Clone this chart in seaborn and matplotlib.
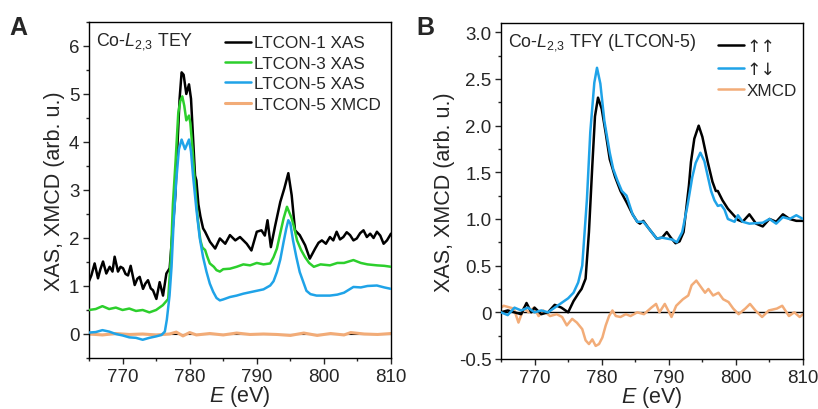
import matplotlib
matplotlib.use("Agg")
import matplotlib.pyplot as plt
import seaborn as sns
import pandas as pd
from matplotlib.ticker import MultipleLocator

# ---------------- Panel A data (TEY) ----------------
a_ltcon1_x = [765.0, 765.35, 765.84, 766.34, 766.7, 767.09, 767.58, 768.08, 768.5, 768.82, 769.32, 769.7,
              770.07, 770.45, 770.81, 771.21, 771.81, 772.2, 772.55, 773.05, 773.4, 773.79, 774.2, 774.54,
              775.04, 775.53, 776.03, 776.53, 777.02, 777.52, 777.87, 778.2, 778.5, 778.8, 779.1, 779.5,
              779.9, 780.2, 780.5, 780.8, 781.0, 781.3, 781.6, 782.0, 782.3, 783.03, 783.8, 784.5, 785.3,
              786.0, 786.8, 787.5, 788.0, 788.5, 789.2, 790.0, 790.7, 791.2, 791.6, 792.1, 792.7, 793.5,
              794.1, 794.7, 795.2, 795.7, 796.4, 797.2, 797.9, 798.7, 799.2, 799.7, 800.3, 800.9, 801.4,
              801.9, 802.4, 802.9, 803.4, 803.9, 804.4, 804.9, 805.4, 805.9, 806.4, 806.9, 807.4, 807.9,
              808.4, 808.9, 809.4, 810.0]
a_ltcon1_y = [1.1, 1.22, 1.47, 1.16, 1.35, 1.51, 1.26, 1.4, 1.3, 1.61, 1.3, 1.4,
              1.37, 1.25, 1.22, 1.42, 1.02, 1.15, 1.19, 0.94, 1.05, 1.12, 0.95, 0.91,
              0.73, 1.08, 0.8, 1.26, 1.37, 2.27, 2.9, 4.0, 4.9, 5.45, 5.4, 5.0,
              5.2, 4.9, 4.1, 3.3, 3.2, 2.7, 2.45, 2.2, 2.13, 1.92, 1.78, 1.99, 1.88,
              2.06, 1.95, 2.02, 1.95, 1.88, 1.74, 2.13, 2.16, 2.05, 2.37, 1.81, 2.23, 2.75,
              3.03, 3.35, 2.89, 2.16, 2.06, 1.85, 1.57, 1.78, 1.9, 1.95, 1.88, 2.02, 1.95,
              2.13, 1.97, 2.02, 2.12, 2.06, 1.95, 1.99, 2.1, 2.16, 2.02, 2.09, 2.0, 2.13,
              2.05, 1.88, 1.95, 2.09]

a_ltcon3_x = [765, 766, 767, 768, 769, 770, 771, 772, 773, 774, 775, 776, 776.8, 777.2, 777.5, 777.9,
              778.3, 778.6, 778.9, 779.2, 779.5, 779.9, 780.1, 780.4, 780.8, 781.2, 781.6, 781.9, 782.3,
              782.6, 783.0, 783.6, 784.0, 784.5, 785, 786, 787, 788, 789, 790, 791, 792, 792.5, 793,
              793.5, 794, 794.5, 795.2, 795.6, 796, 796.6, 797.2, 797.8, 798.5, 799.5, 800.9, 802, 803,
              804.4, 805.5, 806.5, 807.9, 809, 810]
a_ltcon3_y = [0.5, 0.52, 0.58, 0.52, 0.55, 0.5, 0.53, 0.48, 0.5, 0.45, 0.5, 0.6, 0.73, 1.6, 2.7, 3.6,
              4.6, 4.85, 4.95, 4.75, 4.45, 4.55, 4.4, 3.9, 3.1, 2.4, 1.95, 1.8, 1.75,
              1.62, 1.47, 1.4, 1.33, 1.3, 1.35, 1.36, 1.4, 1.45, 1.43, 1.48, 1.45, 1.47, 1.6, 1.78,
              2.1, 2.41, 2.65, 2.41, 2.2, 1.95, 1.75, 1.6, 1.48, 1.4, 1.45, 1.43, 1.48, 1.48,
              1.54, 1.48, 1.45, 1.43, 1.42, 1.4]

a_ltcon5_x = [765, 766, 767, 768, 769, 770, 771, 772, 773, 774, 775, 775.8, 776.3, 776.6, 777.0, 777.3,
              777.6, 778.0, 778.4, 778.8, 779.3, 779.9, 780.2, 780.5, 781.0, 781.5, 782.0, 782.5, 783.0,
              783.5, 784.0, 784.5, 785, 786, 787, 788, 789, 790, 791, 792, 792.5, 793, 793.5, 794, 794.4,
              794.7, 795.0, 795.4, 795.9, 796.4, 797.4, 798.0, 798.9, 800, 800.9, 802, 803, 804.4, 805.5,
              806.5, 807.9, 809, 810]
a_ltcon5_y = [0.03, 0.04, 0.08, 0.05, 0.0, -0.03, -0.07, -0.08, -0.12, -0.08, -0.05, -0.02, 0.05, 0.3, 0.8, 1.4,
              2.3, 3.2, 3.85, 4.05, 3.85, 4.05, 3.8, 3.3, 2.6, 2.0, 1.6, 1.3, 1.05,
              0.88, 0.75, 0.7, 0.72, 0.77, 0.8, 0.84, 0.87, 0.9, 0.93, 1.01, 1.1, 1.29, 1.55, 1.92, 2.2,
              2.37, 2.3, 1.95, 1.6, 1.29, 0.9, 0.83, 0.8, 0.8, 0.8, 0.82, 0.86, 0.98, 0.97,
              1.0, 1.01, 0.97, 0.94]

a_xmcd_x = [765, 767, 769, 771, 773, 775, 777, 778, 779, 780, 781, 783, 785, 787, 789, 791, 793, 795,
            797, 799, 801, 803, 804, 806, 808, 810]
a_xmcd_y = [0.0, -0.02, 0.01, -0.01, 0.0, -0.02, 0.0, 0.04, -0.04, 0.03, -0.02, 0.01, -0.02, 0.02, -0.01,
            0.0, -0.01, -0.03, 0.02, -0.03, 0.01, -0.02, 0.03, 0.0, -0.01, 0.01]

# ---------------- Panel B data (TFY, LTCON-5) ----------------
b_uu_x = [765, 766, 767, 768, 768.8, 769.5, 770, 771, 772, 773, 774, 775, 775.8, 776.6, 777.0, 777.6,
          778.1, 778.6, 779.0, 779.45, 780.0, 780.6, 781.2, 782.0, 782.8, 783.7, 784.6, 785.3, 785.7,
          786.2, 787.0, 788.2, 789.0, 789.7, 790.3, 791.0, 791.6, 792.2, 793.0, 793.3, 793.8, 794.45,
          795.0, 795.8, 796.5, 797.0, 797.3, 798.0, 798.8, 800.3, 801.0, 802.0, 803.0, 804.0, 805.0,
          806.0, 807.0, 808.0, 809.0, 810]
b_uu_y = [0.0, 0.02, 0.0, -0.02, 0.1, 0.0, 0.05, -0.02, 0.0, 0.08, 0.05, 0.0, 0.12, 0.21, 0.25, 0.36,
          0.86, 1.57, 2.1, 2.3, 2.18, 1.92, 1.64, 1.45, 1.3, 1.18, 1.05, 0.97, 0.95,
          0.98, 0.9, 0.79, 0.8, 0.86, 0.8, 0.74, 0.76, 0.86, 1.36, 1.61, 1.86, 2.0,
          1.88, 1.61, 1.4, 1.3, 1.3, 1.2, 1.11, 0.99, 0.97, 1.05, 0.95, 0.92, 1.0,
          0.97, 1.05, 1.0, 0.98, 0.98]

b_ud_x = [765, 766, 767, 768, 769, 770, 771, 772, 773, 774, 775, 775.8, 776.5, 777.1, 777.8, 778.3,
          778.9, 779.3, 779.8, 780.4, 781.2, 781.7, 782.3, 783.0, 783.7, 784.6, 785.3, 786.2, 787.0,
          788.2, 789.0, 789.7, 790.5, 791.2, 792.0, 792.8, 793.5, 794.0, 794.7, 795.3, 795.8, 796.3,
          796.8, 797.3, 797.8, 798.3, 798.8, 799.8, 800.3, 801.0, 802.0, 804.0, 805.0, 806.0, 807.0,
          808.0, 809.0, 810]
b_ud_y = [0.0, -0.03, 0.05, 0.02, 0.05, 0.0, 0.02, 0.0, 0.05, 0.1, 0.15, 0.21, 0.32, 0.5, 1.21, 1.93,
          2.46, 2.62, 2.45, 2.05, 1.71, 1.54, 1.42, 1.3, 1.25, 1.05, 0.97, 0.97, 0.9,
          0.79, 0.8, 0.79, 0.78, 0.75, 0.86, 1.15, 1.45, 1.6, 1.71, 1.62, 1.46, 1.3,
          1.2, 1.14, 1.15, 1.1, 1.0, 0.97, 1.04, 0.97, 0.95, 0.96, 1.0, 0.95, 1.02,
          1.0, 1.04, 1.0]

b_xmcd_x = [765, 765.4, 766.9, 767.6, 768.4, 769.1, 769.9, 770.6, 771.3, 772.3, 773.3, 774.1, 774.8,
            775.6, 776.3, 777.1, 777.6, 778.1, 778.6, 779.1, 779.6, 780.1, 780.6, 781.1, 781.6, 782.1,
            782.8, 783.6, 784.3, 785.3, 786.3, 787.4, 788.1, 788.6, 789.4, 790.4, 791.1, 792.1, 792.9,
            793.4, 794.1, 794.6, 795.4, 795.9, 796.6, 797.4, 798.1, 798.9, 799.6, 800.4, 801.4, 802.1,
            802.9, 803.9, 804.9, 806.1, 806.9, 807.9, 808.7, 809.5, 810]
b_xmcd_y = [0.05, 0.07, 0.04, -0.11, 0.05, 0.0, 0.05, -0.04, 0.02, -0.04, -0.02, -0.05, -0.14,
            -0.07, -0.11, -0.18, -0.3, -0.34, -0.29, -0.36, -0.34, -0.27, -0.14, -0.04, 0.02, -0.04,
            -0.05, -0.02, -0.04, 0.0, -0.02, 0.05, 0.09, 0.0, 0.09, -0.05, 0.07, 0.14, 0.18,
            0.29, 0.34, 0.29, 0.21, 0.25, 0.18, 0.21, 0.14, 0.11, 0.04, -0.02, 0.04, 0.09,
            0.02, -0.05, 0.02, 0.04, 0.07, -0.04, 0.0, -0.05, -0.02]

x_ticks = [770, 780, 790, 800, 810]

C_BLACK = "#000000"
C_GREEN = "#2ccf2c"
C_BLUE = "#1fa3e8"
C_ORANGE = "#f2ac78"

sns.set_theme(style="ticks")
plt.rcParams["font.family"] = ["Liberation Sans", "DejaVu Sans"]
plt.rcParams["mathtext.fontset"] = "custom"
plt.rcParams["mathtext.rm"] = "Liberation Sans"
plt.rcParams["mathtext.it"] = "Liberation Sans:italic"
plt.rcParams["axes.linewidth"] = 1.0
for k in ["xtick.major.width", "ytick.major.width", "xtick.minor.width", "ytick.minor.width"]:
    plt.rcParams[k] = 1.0
plt.rcParams["xtick.direction"] = "out"
plt.rcParams["ytick.direction"] = "out"

fig = plt.figure(figsize=(8.18, 4.10), dpi=100)
axA = fig.add_axes([0.1088, 0.1244, 0.3692, 0.8196])
axB = fig.add_axes([0.6125, 0.1220, 0.3692, 0.8195])


def df(x, y):
    return pd.DataFrame({"E": x, "I": y})


LEG_KW = dict(loc="upper right", frameon=False, fontsize=12.3, handlelength=1.55,
              handletextpad=0.15, labelspacing=0.32, borderaxespad=0.0, borderpad=0.3)

# Panel A
axA.axhline(0, color="black", lw=0.8, zorder=1)
sns.lineplot(data=df(a_xmcd_x, a_xmcd_y), x="E", y="I", ax=axA, color=C_ORANGE, lw=2.2,
             label="LTCON-5 XMCD", zorder=2)
sns.lineplot(data=df(a_ltcon1_x, a_ltcon1_y), x="E", y="I", ax=axA, color=C_BLACK, lw=1.8,
             label="LTCON-1 XAS", zorder=3)
sns.lineplot(data=df(a_ltcon3_x, a_ltcon3_y), x="E", y="I", ax=axA, color=C_GREEN, lw=1.8,
             label="LTCON-3 XAS", zorder=4)
sns.lineplot(data=df(a_ltcon5_x, a_ltcon5_y), x="E", y="I", ax=axA, color=C_BLUE, lw=1.8,
             label="LTCON-5 XAS", zorder=5)
axA.set_xlim(765, 810)
axA.set_ylim(-0.5, 6.5)
axA.yaxis.set_major_locator(MultipleLocator(1))
axA.yaxis.set_minor_locator(MultipleLocator(0.5))
h, l = axA.get_legend_handles_labels()
order = [1, 2, 3, 0]
axA.legend([h[i] for i in order], [l[i] for i in order], bbox_to_anchor=(0.983, 0.975), **LEG_KW)
axA.text(0.022, 0.975, r"Co-$\mathit{L}_{2{,}3}$ TEY", transform=axA.transAxes, ha="left", va="top",
         fontsize=12.8)

# Panel B
axB.axhline(0, color="black", lw=1.0, zorder=1)
sns.lineplot(data=df(b_xmcd_x, b_xmcd_y), x="E", y="I", ax=axB, color=C_ORANGE, lw=1.8,
             label="XMCD", zorder=2)
sns.lineplot(data=df(b_uu_x, b_uu_y), x="E", y="I", ax=axB, color=C_BLACK, lw=1.8,
             label="↑↑", zorder=3)
sns.lineplot(data=df(b_ud_x, b_ud_y), x="E", y="I", ax=axB, color=C_BLUE, lw=1.8,
             label="↑↓", zorder=4)
axB.set_xlim(765, 810)
axB.set_ylim(-0.5, 3.1)
axB.set_yticks([-0.5, 0, 0.5, 1.0, 1.5, 2.0, 2.5, 3.0])
axB.set_yticklabels(["-0.5", "0", "0.5", "1.0", "1.5", "2.0", "2.5", "3.0"])
axB.yaxis.set_minor_locator(MultipleLocator(0.25))
h, l = axB.get_legend_handles_labels()
order = [1, 2, 0]
legB = axB.legend([h[i] for i in order], [l[i] for i in order], bbox_to_anchor=(0.997, 0.975),
                  **LEG_KW)
for t in legB.get_texts()[:2]:
    t.set_family(["DejaVu Sans"])
    t.set_fontsize(12.5)
axB.text(0.022, 0.975, r"Co-$\mathit{L}_{2{,}3}$ TFY (LTCON-5)", transform=axB.transAxes, ha="left",
         va="top", fontsize=12.8)

for ax in (axA, axB):
    ax.set_xticks(x_ticks)
    ax.xaxis.set_minor_locator(MultipleLocator(5))
    ax.tick_params(axis="both", which="major", length=4, labelsize=13.5, pad=3,
                   top=False, right=False)
    ax.tick_params(axis="both", which="minor", length=2.5, top=False, right=False)
    ax.set_xlabel(r"$\mathit{E}$ (eV)", fontsize=15.5, labelpad=-1)
    ax.set_ylabel("XAS, XMCD (arb. u.)", fontsize=15.5, labelpad=3)
    for s in ax.spines.values():
        s.set_visible(True)
        s.set_color("black")

fig.text(0.011, 0.96, "A", fontsize=18, fontweight="bold", ha="left", va="top")
fig.text(0.509, 0.96, "B", fontsize=18, fontweight="bold", ha="left", va="top")

fig.savefig("out.png", dpi=100)
